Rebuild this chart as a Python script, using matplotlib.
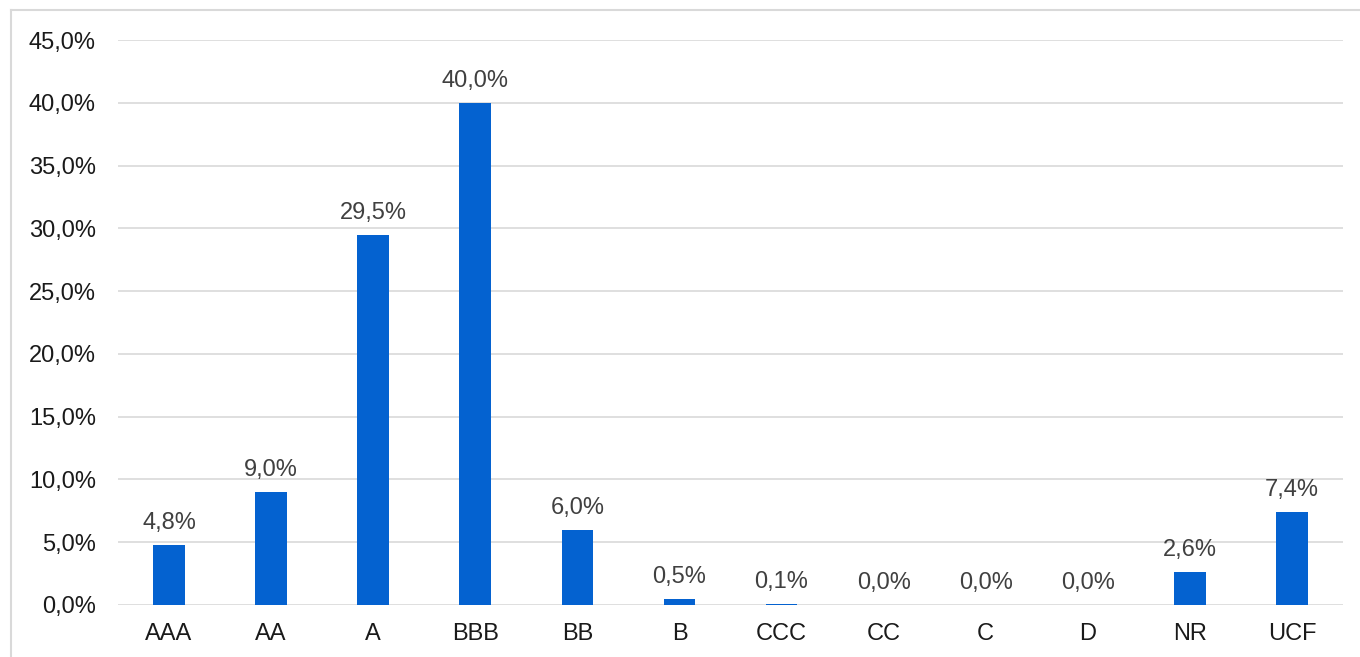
import matplotlib
matplotlib.use("Agg")
import matplotlib.pyplot as plt
from matplotlib.lines import Line2D

categories = ['AAA', 'AA', 'A', 'BBB', 'BB', 'B', 'CCC', 'CC', 'C', 'D', 'NR', 'UCF']
values = [4.8, 9.0, 29.5, 40.0, 6.0, 0.5, 0.1, 0.0, 0.0, 0.0, 2.6, 7.4]
yticks = [0, 5, 10, 15, 20, 25, 30, 35, 40, 45]

plt.rcParams['font.family'] = ['Liberation Sans', 'DejaVu Sans']

fig = plt.figure(figsize=(13.6, 6.57), dpi=100)
ax = fig.add_axes([118 / 1360, 1 - 605 / 657, (1343 - 118) / 1360, (605 - 40) / 657])

x = range(len(categories))
bars = ax.bar(x, values, width=0.31, color='#0462D0', zorder=3)

for b, v in zip(bars, values):
    ax.annotate(f"{v:.1f}%".replace('.', ','),
                (b.get_x() + b.get_width() / 2, b.get_height()),
                xytext=(0, 11), textcoords='offset pixels',
                ha='center', va='bottom', fontsize=17, color='#404040')

ax.set_xlim(-0.5, len(categories) - 0.5)
ax.set_ylim(0, 45)
ax.set_yticks(yticks)
ax.set_yticklabels([f"{t:.1f}%".replace('.', ',') for t in yticks])
ax.set_xticks(list(x))
ax.set_xticklabels(categories)
ax.tick_params(axis='both', length=0, labelsize=17, colors='#1a1a1a')
ax.tick_params(axis='y', pad=16)
ax.tick_params(axis='x', pad=13)
ax.grid(axis='y', color='#D9D9D9', linewidth=1.2, zorder=0)
for s in ax.spines.values():
    s.set_visible(False)

# outer chart border
fig.add_artist(Line2D([11 / 1360, 11 / 1360], [0, 1 - 10 / 657], transform=fig.transFigure,
                      color='#D9D9D9', linewidth=1.5))
fig.add_artist(Line2D([11 / 1360, 1], [1 - 10 / 657, 1 - 10 / 657], transform=fig.transFigure,
                      color='#D9D9D9', linewidth=1.5))

fig.savefig('out.png', dpi=100)
